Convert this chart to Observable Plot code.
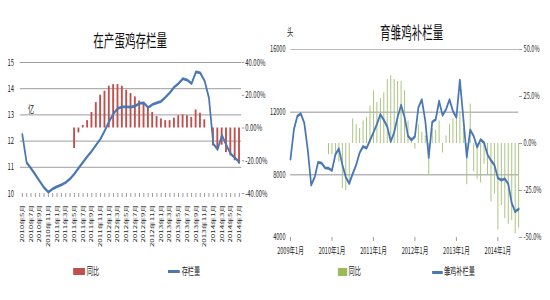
<!DOCTYPE html>
<html><head><meta charset="utf-8">
<script src="https://cdn.jsdelivr.net/npm/d3@7"></script>
<script src="https://cdn.jsdelivr.net/npm/@observablehq/plot@0.6"></script>
<style>
html,body{margin:0;padding:0;background:#fff;width:550px;height:300px;overflow:hidden;}
#wrap{position:absolute;left:0;top:0;width:887px;height:300px;transform:scaleX(0.62);transform-origin:0 0;font-family:"Noto Sans CJK SC","Noto Sans",sans-serif;color:#222;}
.abs{position:absolute;white-space:nowrap;}
.title{font-size:17px;line-height:18px;text-align:center;width:200px;color:#111;}
.lg{font-size:10px;line-height:10px;}
</style></head>
<body><div id="wrap">
<div class="abs title" style="left:110px;top:31px;">在产蛋鸡存栏量</div>
<div class="abs title" style="left:564px;top:23px;">育雏鸡补栏量</div>
<div class="abs lg" style="left:45px;top:104px;">亿</div>
<div class="abs lg" style="left:463px;top:27px;">头</div>
<div class="abs" style="left:118px;top:268px;width:19px;height:7px;background:#C0504D;"></div>
<div class="abs lg" style="left:140px;top:266px;">同比</div>
<div class="abs" style="left:271px;top:270px;width:19px;height:3px;background:#4A78B4;"></div>
<div class="abs lg" style="left:293px;top:266px;">存栏量</div>
<div class="abs" style="left:545px;top:268px;width:15px;height:8px;background:#9BBB59;"></div>
<div class="abs lg" style="left:562px;top:266px;">同比</div>
<div class="abs" style="left:697px;top:271px;width:17px;height:3px;background:#4A78B4;"></div>
<div class="abs lg" style="left:716px;top:266px;">雏鸡补栏量</div>
<div id="left" class="abs" style="left:0;top:0;"></div>
<div id="right" class="abs" style="left:432px;top:0;"></div>
</div>
<script>
// ---------- Left panel: 在产蛋鸡存栏量 ----------
const leftMonths = ["2010年5月","2010年6月","2010年7月","2010年8月","2010年9月","2010年10月","2010年11月","2010年12月",
"2011年1月","2011年2月","2011年3月","2011年4月","2011年5月","2011年6月","2011年7月","2011年8月","2011年9月","2011年10月","2011年11月","2011年12月",
"2012年1月","2012年2月","2012年3月","2012年4月","2012年5月","2012年6月","2012年7月","2012年8月","2012年9月","2012年10月","2012年11月","2012年12月",
"2013年1月","2013年2月","2013年3月","2013年4月","2013年5月","2013年6月","2013年7月","2013年8月","2013年9月","2013年10月","2013年11月","2013年12月",
"2014年1月","2014年2月","2014年3月","2014年4月","2014年5月","2014年6月","2014年7月"];
const stock = [12.25,11.18,10.96,10.72,10.47,10.23,10.05,10.18,10.26,10.33,10.42,10.56,10.75,10.98,11.2,11.42,11.62,11.85,12.08,12.4,
12.75,13.05,13.25,13.31,13.31,13.3,13.34,13.44,13.46,13.28,13.4,13.46,13.52,13.68,13.85,14.06,14.2,14.38,14.33,14.2,
14.64,14.6,14.3,13.65,11.9,11.68,12.22,11.85,11.52,11.36,11.2];
const stockYoY = [null,null,null,null,null,null,null,null,null,null,null,null,
-12.5,-3,1.5,4.5,9.5,15.5,20,22.5,25.5,26.5,26.5,25.5,23,21,19,16.5,14.5,12,9.5,7,5.5,4.5,4.5,6,7.5,8,7.5,6.5,11,9,5,null,
-11,-13,-10.5,-15,-17,-20,-22];
const leftYTicks = [10,11,12,13,14,15];
const leftGrid = [11,12,13,14,15];
const leftPctTicks = [40,20,0,-20,-40];

// ---------- Right panel: 育雏鸡补栏量 (2009年1月 .. 2014年7月) ----------
const chick = [9000,10900,11750,11900,11300,9600,7350,7850,8800,8750,8450,8420,
8280,9300,9660,8650,7850,7450,8070,8630,9400,9810,9700,10200,
10700,11230,11860,11500,11080,10120,10700,11690,12440,11700,10480,10220,
10450,12300,12800,11450,9100,11370,11530,12700,11800,12180,12800,12060,
11670,14050,11630,9130,10870,10470,9770,10250,10050,9290,8920,8620,
7800,7660,7750,7420,6200,5650,5820];
const chickYoY = [null,null,null,null,null,null,null,null,null,null,null,-6,
-6,-5,-10,-24,-25,-20,13,10,8,12,14,20,
28,22,24,27,34,36,34,33,33,28,12,3,
-3,10,6,4,-17,8,7,12,-5,4,10,13,
15,17,8,-22,21,-15,-19,-21,-11,-17,-31,-27,
-46,-33,-40,-43,-41,-48,-45];
const rightYearLabels = ["2009年1月","2010年1月","2011年1月","2012年1月","2013年1月","2014年1月"];
const rightYTicks = [4000,8000,12000,16000];
const rightPctTicks = [50,25,0,-25,-50];

const RED = "#C0504D", BLUE = "#4A78B4", GREEN = "#A9C47F", GRID = "#868686";
const FONT = '"Noto Sans CJK SC","Noto Sans",sans-serif';

// left: percent axis -40..40 shares the 10..15 range
const T = p => 12.5 + p / 16;
const leftData = leftMonths.map((m, i) => ({m, v: stock[i], p: stockYoY[i]}));

const left = Plot.plot({
  width: 432, height: 260,
  marginLeft: 32, marginRight: 43, marginTop: 62, marginBottom: 67,
  style: {fontFamily: FONT, fontSize: "9.5px", color: "#222", background: "transparent", overflow: "visible"},
  x: {type: "band", domain: leftMonths, paddingInner: 0.54, paddingOuter: 0.27, align: 0.5, axis: null, label: null},
  y: {domain: [10, 15], axis: null, label: null},
  marks: [
    Plot.ruleY(leftGrid, {stroke: GRID, strokeWidth: 1}),
    Plot.barY(leftData.filter(d => d.p != null), {x: "m", y1: () => 12.5, y2: d => T(d.p), fill: RED}),
    Plot.lineY(leftData, {x: "m", y: "v", stroke: BLUE, strokeWidth: 2.8}),
    Plot.axisY({anchor: "left", label: null, ticks: leftYTicks, tickSize: 0, tickPadding: 10, line: true, stroke: GRID, tickFormat: d => String(d)}),
    Plot.axisY({anchor: "right", label: null, ticks: leftPctTicks.map(T), tickSize: 4, tickPadding: 2, line: true, stroke: GRID,
      tickFormat: d => ((d - 12.5) * 16).toFixed(2) + "%"}),
    Plot.axisX({label: null, ticks: leftMonths, tickSize: 4, tickFormat: null, line: true, stroke: GRID}),
    Plot.axisX({label: null, ticks: leftMonths.filter((_, i) => i % 2 === 0), tickSize: 0, tickPadding: 11, tickRotate: -90, fontSize: 8})
  ]
});
document.getElementById("left").appendChild(left);

// right: percent axis -50..50 shares the 4000..16000 range
const U = p => 10000 + p * 120;
const rightData = chick.map((v, i) => ({i, v, p: chickYoY[i]}));

const right = Plot.plot({
  width: 455, height: 260,
  marginLeft: 36, marginRight: 51, marginTop: 49, marginBottom: 23,
  style: {fontFamily: FONT, fontSize: "9px", color: "#222", background: "transparent", overflow: "visible"},
  x: {domain: [0, 66], axis: null, label: null},
  y: {domain: [4000, 16000], axis: null, label: null},
  marks: [
    Plot.ruleY([16000], {stroke: "#aaaaaa", strokeWidth: 1}),
    Plot.ruleY([12000, 8000], {stroke: "#7a7a7a", strokeWidth: 1}),
    Plot.ruleX(rightData.filter(d => d.p != null), {x: "i", y1: () => 10000, y2: d => U(d.p), stroke: GREEN, strokeWidth: 1.6}),
    Plot.lineY(rightData, {x: "i", y: "v", stroke: BLUE, strokeWidth: 2.8}),
    Plot.axisY({anchor: "left", label: null, ticks: rightYTicks, tickSize: 0, tickPadding: 8, line: true, stroke: GRID, tickFormat: d => String(d)}),
    Plot.axisY({anchor: "right", label: null, ticks: rightPctTicks.map(U), tickSize: 5, tickPadding: 3, line: true, stroke: GRID,
      tickFormat: d => ((d - 10000) / 120).toFixed(1) + "%"}),
    Plot.axisX({label: null, ticks: [0, 12, 24, 36, 48, 60], tickSize: 4, tickPadding: 6, line: true, stroke: GRID,
      tickFormat: d => rightYearLabels[d / 12]})
  ]
});
document.getElementById("right").appendChild(right);
</script>
</body></html>
